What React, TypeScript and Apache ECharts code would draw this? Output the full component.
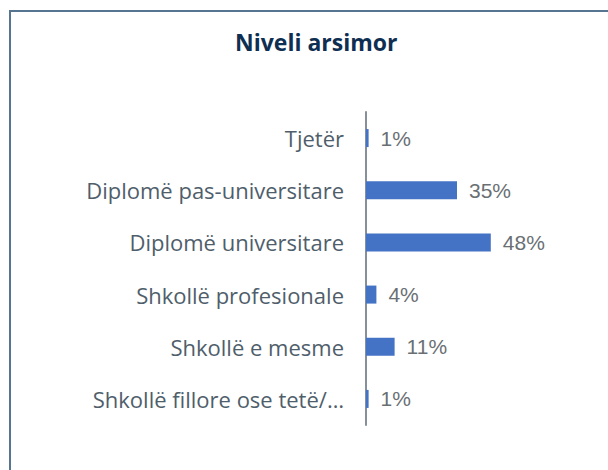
import React, { useEffect, useRef } from "react";
import * as echarts from "echarts";

const categories = [
  "Tjetër",
  "Diplomë pas-universitare",
  "Diplomë universitare",
  "Shkollë profesionale",
  "Shkollë e mesme",
  "Shkollë fillore ose tetë/…",
];
const values = [1, 35, 48, 4, 11, 1];
const titleText = "Niveli arsimor";

export default function App() {
  const ref = useRef<HTMLDivElement>(null);
  useEffect(() => {
    if (!ref.current) return;
    const chart = echarts.init(ref.current, null, { renderer: "svg" });
    chart.setOption({
      animation: false,
      backgroundColor: "#ffffff",
      title: {
        text: titleText,
        left: 230,
        top: 25,
        textStyle: {
          fontFamily: "Open Sans",
          fontWeight: "bold",
          fontSize: 23,
          color: "#0f2f52",
        },
      },
      graphic: [
        { type: "rect", shape: { x: 9, y: 10, width: 599, height: 2 }, style: { fill: "#567590" } },
        { type: "rect", shape: { x: 9, y: 10, width: 2, height: 460 }, style: { fill: "#567590" } },
      ],
      grid: { left: 366, top: 112, width: 234, height: 313, containLabel: false },
      xAxis: {
        type: "value",
        min: 0,
        max: 90,
        show: false,
      },
      yAxis: {
        type: "category",
        data: categories,
        inverse: true,
        axisLine: { show: true, lineStyle: { color: "#86909a", width: 2 } },
        axisTick: { show: false },
        axisLabel: {
          margin: 22,
          fontFamily: "Open Sans",
          fontSize: 22,
          color: "#4f5e6b",
        },
        splitLine: { show: false },
      },
      series: [
        {
          type: "bar",
          data: values,
          barWidth: 18,
          itemStyle: { color: "#4472c4" },
          label: {
            show: true,
            position: "right",
            distance: 12,
            formatter: (p: any) => `${p.value}%`,
            fontFamily: "Liberation Sans",
            fontWeight: "normal",
            fontSize: 21,
            color: "#6a6f74",
            textBorderWidth: 0,
          },
        },
      ],
    });
    return () => chart.dispose();
  }, []);
  return (
    <div
      ref={ref}
      style={{ position: "absolute", left: 0, top: 0, width: 608, height: 470 }}
    />
  );
}
